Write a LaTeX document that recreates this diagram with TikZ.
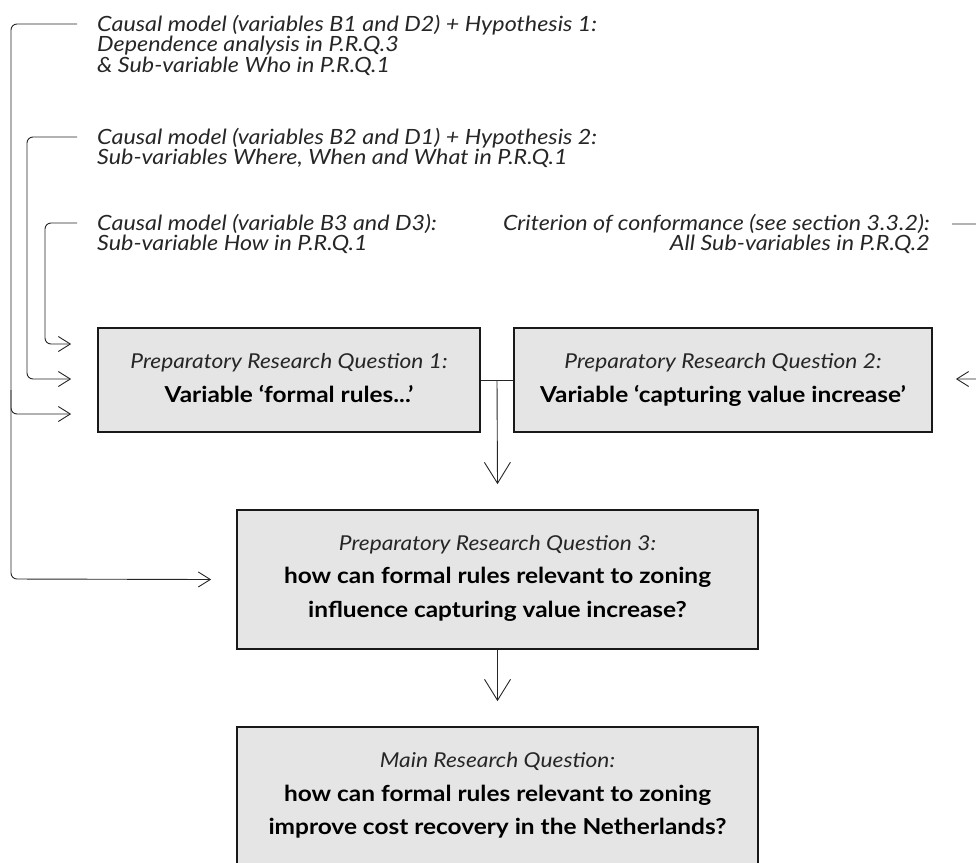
\documentclass[tikz,border=0pt]{standalone}
\usepackage{fontspec}
\setmainfont{Lato}[FakeStretch=1.11]
\usetikzlibrary{arrows.meta,calc}
\tikzset{
  sidetip/.tip={Straight Barb[length=12pt,width=15pt]},
  downtip/.tip={Straight Barb[length=21pt,width=26pt]},
}
\begin{document}
\begin{tikzpicture}[x=1pt,y=-1pt,
  conn/.style={draw=black!85,line width=0.9pt,rounded corners=6pt},
  note/.style={anchor=base west,inner sep=0pt,font=\fontsize{21}{23}\selectfont\itshape,text=black!85},
  noter/.style={note,anchor=base east},
  qbox/.style={draw=black!90,line width=1.7pt,fill=black!10,inner sep=0pt},
  qhead/.style={anchor=base,inner sep=0pt,font=\fontsize{20.5}{23}\selectfont\itshape,text=black!85},
  qbody/.style={anchor=base,inner sep=0pt,font=\fontsize{22}{24}\selectfont\bfseries},
]
\clip (0,0) rectangle (976,862);

% explanatory notes
\node[note] (n1a) at (97,31) {Causal model (variables B1 and D2) + Hypothesis 1:};
\node[note] (n1b) at (97,51.5) {Dependence analysis in P.R.Q.3};
\node[note] (n1c) at (97,72) {\& Sub-variable Who in P.R.Q.1};
\node[note] (n2a) at (97,144) {Causal model (variables B2 and D1) + Hypothesis 2:};
\node[note] (n2b) at (97,164.5) {Sub-variables Where, When and What in P.R.Q.1};
\node[note] (n3a) at (97,230) {Causal model (variable B3 and D3):};
\node[note] (n3b) at (97,250.5) {Sub-variable How in P.R.Q.1};
\node[noter] (n4a) at (930,230) {Criterion of conformance (see section 3.3.2):};
\node[noter] (n4b) at (930,250.5) {All Sub-variables in P.R.Q.2};

% question boxes
\node[qbox,minimum width=382pt,minimum height=104pt] (p1) at (289,380) {};
\node[qbox,minimum width=418pt,minimum height=104pt] (p2) at (723,380) {};
\node[qbox,minimum width=521pt,minimum height=139pt] (p3) at (497.5,579.5) {};
\node[qbox,minimum width=521pt,minimum height=139pt] (mq) at (497.5,796.5) {};

\node[qhead] (p1h) at ($(p1.north)+(0,41)$) {Preparatory Research Question 1:};
\node[qbody] (p1t) at ($(p1.north)+(0,75)$) {Variable ‘formal rules...’};
\node[qhead] (p2h) at ($(p2.north)+(0,41)$) {Preparatory Research Question 2:};
\node[qbody] (p2t) at ($(p2.north)+(0,75)$) {Variable ‘capturing value increase’};
\node[qhead] (p3h) at ($(p3.north)+(0,41)$) {Preparatory Research Question 3:};
\node[qbody] (p3t) at ($(p3.north)+(0,74)$) {how can formal rules relevant to zoning};
\node[qbody] (p3u) at ($(p3.north)+(0,108)$) {influence capturing value increase?};
\node[qhead] (mqh) at ($(mq.north)+(0,41)$) {Main Research Question:};
\node[qbody] (mqt) at ($(mq.north)+(0,75)$) {how can formal rules relevant to zoning};
\node[qbody] (mqu) at ($(mq.north)+(0,108)$) {improve cost recovery in the Netherlands?};

% connector end points
\coordinate (s1) at ($(n1a.base west)+(-20,-7)$);
\coordinate (s2) at ($(n2a.base west)+(-20,-7)$);
\coordinate (s3) at ($(n3a.base west)+(-20,-7)$);
\coordinate (s4) at ($(n4a.base east)+(22,-6)$);
\coordinate (e1) at ($(p1.west)+(-26,-36)$);
\coordinate (e2) at ($(p1.west)+(-26,-1)$);
\coordinate (e3) at ($(p1.west)+(-26,34)$);
\coordinate (e4) at ($(p3.west)+(-25,0)$);
\coordinate (e5) at ($(p2.east)+(23,-1)$);
\coordinate (mid) at ($(p1.east)!0.5!(p2.west)$);
\coordinate (d1) at ($(p3.north)+(0,-25)$);
\coordinate (d2) at ($(mq.north)+(0,-25)$);

% left brackets
\draw[conn,-{sidetip}] (s1) -- (11,24) -- (11,579) -- (e4);
\draw[conn,-{sidetip}] (11,390) -- (11,414) -- (e3);
\draw[conn,-{sidetip}] (s2) -- (27,137) -- (27,379) -- (e2);
\draw[conn,-{sidetip}] (s3) -- (45,223) -- (45,344) -- (e1);

% right bracket
\draw[conn,-{sidetip}] (s4) -- (994,224) -- (994,379) -- (e5);

% joining PRQ 1 and 2, flowing down
\draw[conn] (p1.east) -- (p2.west);
\draw[conn,-{downtip}] (mid) -- (d1);
\draw[conn,-{downtip}] (p3.south) -- (d2);
\end{tikzpicture}
\end{document}
